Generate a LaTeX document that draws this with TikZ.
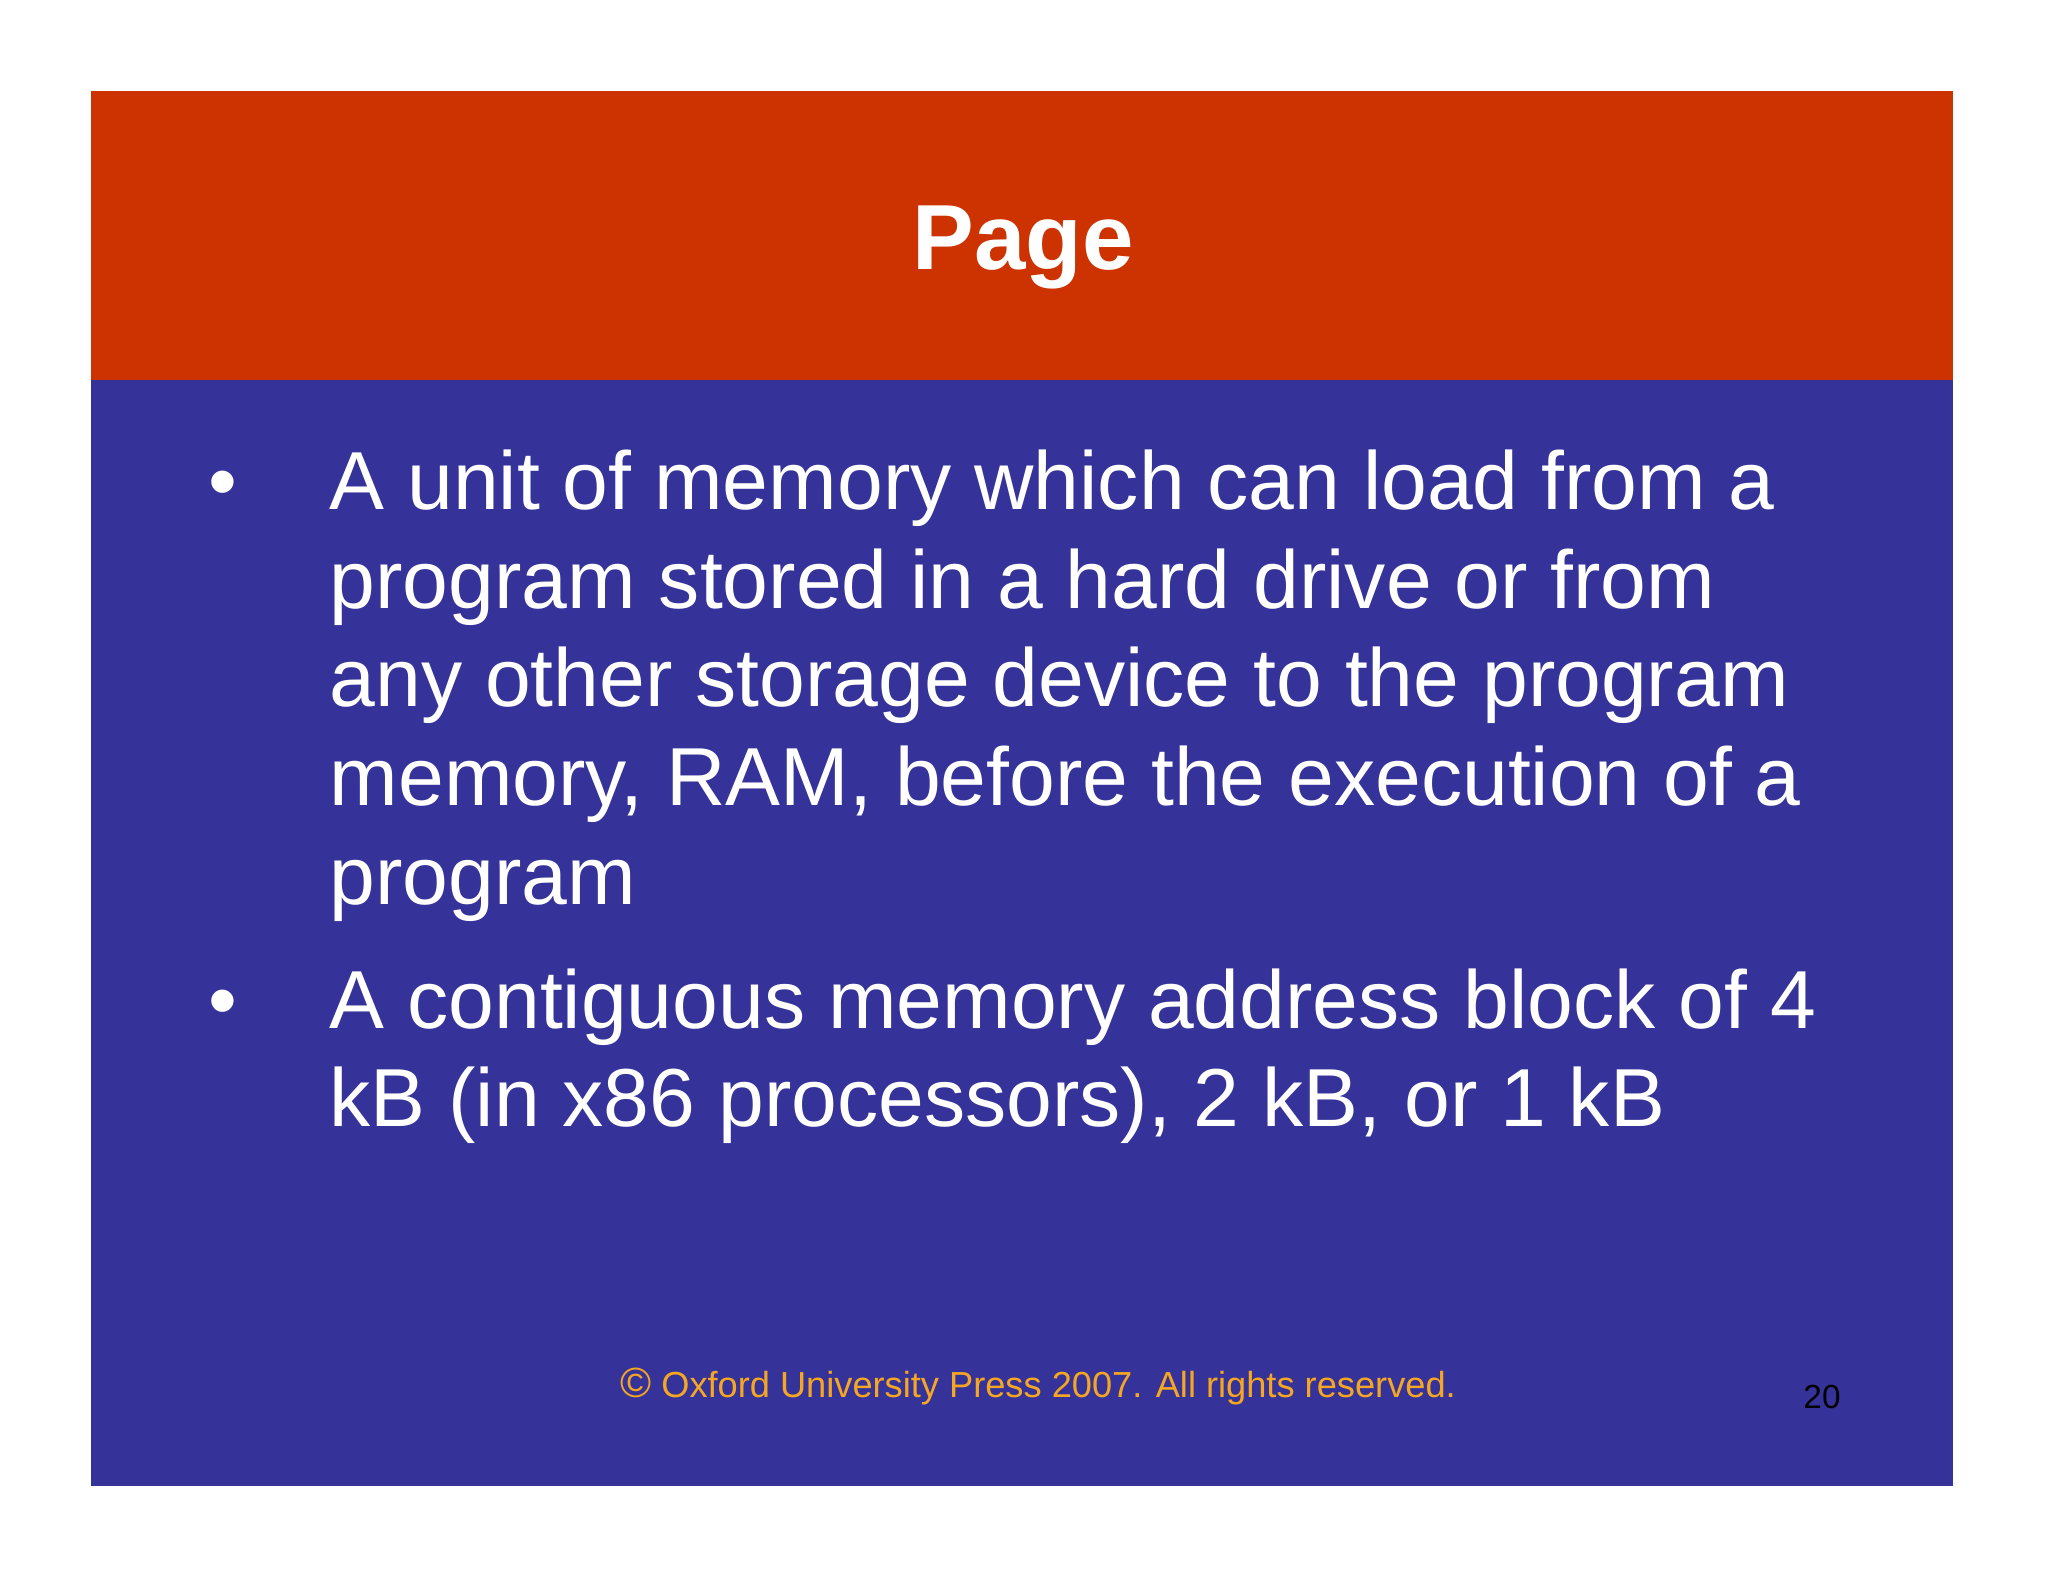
\documentclass[tikz,border=0pt]{standalone}
\usepackage{fontspec}
\setmainfont{Liberation Sans}
\definecolor{hred}{HTML}{CC3300}
\definecolor{bblue}{HTML}{353399}
\definecolor{forange}{HTML}{F5A623}
\begin{document}
\begin{tikzpicture}[x=0.01cm,y=-0.01cm,
  body/.style={anchor=base west,text=white,font=\fontsize{23.4}{28}\selectfont,inner sep=0pt}]
\useasboundingbox (0,0) rectangle (2048,1582);
\fill[white] (0,0) rectangle (2048,1582);
\fill[bblue] (91,380) rectangle (1953,1486);
\fill[hred] (91,91) rectangle (1953,380);
\node[anchor=base,text=white,font=\bfseries\fontsize{26.3}{30}\selectfont,inner sep=0pt] (title) at (1023,269) {Page};
\node[body] (b1) at (208,509) {•};
\node[body] (l1) at (329,509) {A unit of memory which can load from a};
\node[body] (l2) at (329,608) {program stored in a hard drive or from};
\node[body] (l3) at (329,706) {any other storage device to the program};
\node[body] (l4) at (329,805) {memory, RAM, before the execution of a};
\node[body] (l5) at (329,904) {program};
\node[body] (b2) at (208,1028) {•};
\node[body] (m1) at (329,1028) {A contiguous memory address block of 4};
\node[body] (m2) at (329,1126) {kB (in x86 processors), 2 kB, or 1 kB};
\node[anchor=base,text=forange,font=\fontsize{10.3}{12}\selectfont,inner sep=0pt] (foot) at (1038,1397) {{\fontsize{12}{12}\selectfont©} Oxford University Press 2007. All rights reserved.};
\node[anchor=base,text=black,font=\fontsize{9.5}{11}\selectfont,inner sep=0pt] (num) at (1822,1408) {20};
\end{tikzpicture}
\end{document}
